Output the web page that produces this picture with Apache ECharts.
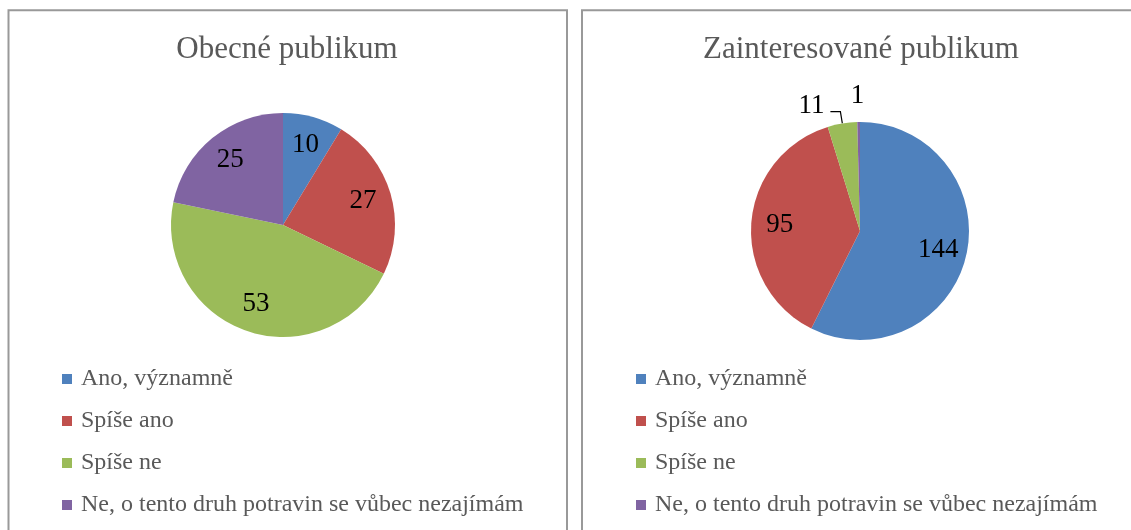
<!doctype html>
<html lang="cs">
<head>
    <meta charset="UTF-8">
    <title>Obecné a zainteresované publikum</title>
    <script src="https://cdn.jsdelivr.net/npm/echarts@6/dist/echarts.min.js"></script>
    <style>
        html, body { margin: 0; padding: 0; background: #fff; }
        #main { width: 1131px; height: 530px; }
    </style>
</head>
<body>
<div id="main"></div>
<script type="text/javascript">
    // kategorie odpovědí a počty
    var categories = ['Ano, významně', 'Spíše ano', 'Spíše ne', 'Ne, o tento druh potravin se vůbec nezajímám'];
    var obecneValues = [10, 27, 53, 25];
    var zainteresovaneValues = [144, 95, 11, 1];
    var titles = ['Obecné publikum', 'Zainteresované publikum'];
    var colors = ['#4F81BD', '#C0504D', '#9BBB59', '#8064A2'];

    var serif = '"Liberation Serif", "Times New Roman", serif';

    function toData(values) {
        var out = [];
        for (var i = 0; i < values.length; i++) {
            out.push({ name: categories[i], value: values[i] });
        }
        return out;
    }

    var myChart = echarts.init(document.getElementById('main'));

    // popisky malých výsečí vpravo jsou venku
    var rightLabels = toData(zainteresovaneValues);
    rightLabels[2].label = {
        position: 'outside', distanceToLabelLine: 6,
        formatter: '{c}\n{gap| }',
        rich: { gap: { fontSize: 1, lineHeight: 12 } }
    };
    rightLabels[2].labelLine = { show: true, length: 12, length2: 10, lineStyle: { color: '#000', width: 1.2 } };
    rightLabels[3].label = { position: 'outside', distanceToLabelLine: -6 };
    rightLabels[3].labelLine = { show: false, length: 26, length2: 0 };

    var pieBase = {
        type: 'pie',
        startAngle: 90,
        clockwise: true,
        avoidLabelOverlap: false,
        silent: true,
        emphasis: { disabled: true },
        itemStyle: { borderWidth: 0 }
    };

    var labelStyle = {
        show: true,
        position: 'inside',
        fontFamily: serif,
        fontSize: 27,
        color: '#000',
        textBorderWidth: 0,
        formatter: '{c}'
    };

    var legendBase = {
        orient: 'vertical',
        top: 367,
        padding: 0,
        itemGap: 18,
        itemWidth: 10,
        itemHeight: 10,
        icon: 'rect',
        selectedMode: false,
        textStyle: { fontFamily: serif, fontSize: 24, color: '#595959', padding: [0, 0, 0, 4] },
        data: categories
    };

    myChart.setOption({
        animation: false,
        color: colors,
        graphic: [
            { type: 'rect', shape: { x: 8.5, y: 10.2, width: 558.5, height: 600 }, style: { fill: null, stroke: '#999', lineWidth: 2 }, silent: true },
            { type: 'rect', shape: { x: 582, y: 10.2, width: 600, height: 600 }, style: { fill: null, stroke: '#999', lineWidth: 2 }, silent: true }
        ],
        title: [
            { text: titles[0], left: 287, top: 34, padding: 0, textAlign: 'center',
              textStyle: { fontFamily: serif, fontSize: 31, fontWeight: 'normal', color: '#595959' } },
            { text: titles[1], left: 861, top: 34, padding: 0, textAlign: 'center',
              textStyle: { fontFamily: serif, fontSize: 31, fontWeight: 'normal', color: '#595959' } }
        ],
        legend: [
            Object.assign({}, legendBase, { left: 62 }),
            Object.assign({}, legendBase, { left: 636 })
        ],
        series: [
            Object.assign({}, pieBase, {
                name: titles[0], center: [283, 225], radius: 112,
                label: { show: false }, labelLine: { show: false },
                data: toData(obecneValues)
            }),
            Object.assign({}, pieBase, {
                name: titles[1], center: [860, 231], radius: 109,
                label: { show: false }, labelLine: { show: false },
                data: toData(zainteresovaneValues)
            }),
            // průhledné vrstvy jen pro umístění popisků
            Object.assign({}, pieBase, {
                name: titles[0] + ' popisky', center: [283, 225], radius: [49, 112],
                itemStyle: { color: 'rgba(0,0,0,0)', borderWidth: 0 },
                label: labelStyle, labelLine: { show: false },
                data: toData(obecneValues)
            }),
            Object.assign({}, pieBase, {
                name: titles[1] + ' popisky', center: [860, 231], radius: [46, 109],
                itemStyle: { color: 'rgba(0,0,0,0)', borderWidth: 0 },
                label: labelStyle, labelLine: { show: false },
                data: rightLabels
            })
        ]
    });
</script>
</body>
</html>
